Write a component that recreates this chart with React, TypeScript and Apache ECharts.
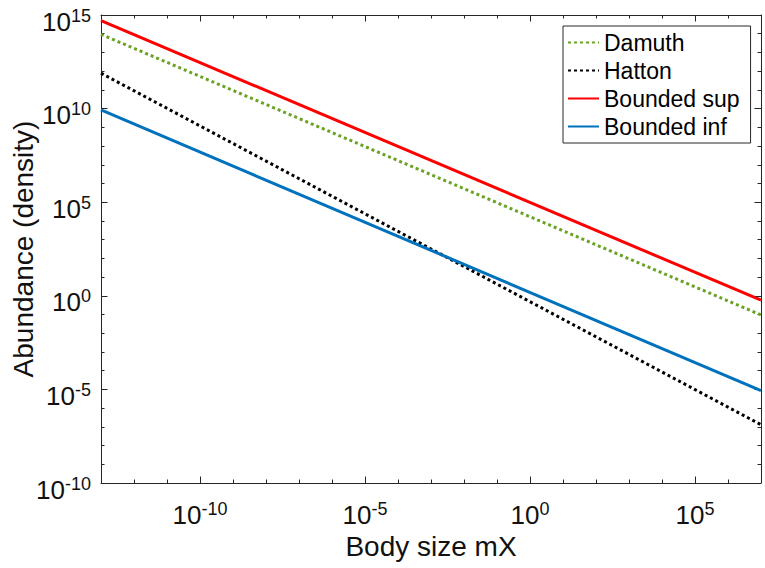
import React, { useEffect, useRef } from "react";
import * as echarts from "echarts";

// ---- data ----
const seriesNames = ["Damuth", "Hatton", "Bounded sup", "Bounded inf"];
const bodySize = [1e-13, 1e7]; // x values at the two ends of each power-law line
const damuth = [9.3e13, 0.095];
const hatton = [7.8e11, 1.3e-7];
const boundedSup = [5.0e14, 0.58];
const boundedInf = [8.5e9, 8.5e-6];

// axis extents and ticks, as powers of ten (decades)
const xDecadeRange = [-13, 7];
const yDecadeRange = [-10, 15];
const xMajorExp = [-10, -5, 0, 5];
const yMajorExp = [-10, -5, 0, 5, 10, 15];

const colors = ["#6AA323", "#000000", "#FF0000", "#0072BD"];

const FONT = "'Liberation Sans', Arial, Helvetica, sans-serif";
const AXIS = "#262626";
const TEXT = "#111111";

const powLabel = (e: number) => {
  const n = Math.round(e);
  if (Math.abs(e - n) > 1e-6 || n % 5 !== 0) return "";
  return `{b|10}{s|${n}}`;
};

const rich = {
  b: { fontFamily: FONT, fontSize: 26, lineHeight: 30, color: TEXT },
  s: { fontFamily: FONT, fontSize: 18, lineHeight: 10, verticalAlign: "top", color: TEXT },
};

function decadeAxis(range: number[], position: string, interval: number, minor: boolean, extra: any = {}) {
  return {
    type: "value",
    min: range[0],
    max: range[1],
    interval,
    position,
    axisLine: { show: true, onZero: false, lineStyle: { color: AXIS, width: 1 } },
    axisTick: { show: true, inside: true, length: minor ? 6.5 : 3.5, lineStyle: { color: AXIS, width: 1 } },
    minorTick: {
      show: minor,
      splitNumber: 5,
      length: 3.5,
      lineStyle: { color: AXIS, width: 1 },
    },
    axisLabel: { show: false },
    splitLine: { show: false },
    minorSplitLine: { show: false },
    ...extra,
  };
}

export default function App() {
  const ref = useRef<HTMLDivElement>(null);
  useEffect(() => {
    if (!ref.current) return;
    const chart = echarts.init(ref.current, undefined, { renderer: "svg" });
    const seriesValues = [damuth, hatton, boundedSup, boundedInf];
    const dashed = [true, true, false, false];
    const option: any = {
      animation: false,
      backgroundColor: "#ffffff",
      grid: {
        left: 101,
        top: 15,
        width: 660,
        height: 468,
        containLabel: false,
        outerBoundsMode: "none",
      },
      xAxis: [
        decadeAxis(xDecadeRange, "bottom", 1, false, {
          axisLabel: {
            show: true,
            formatter: powLabel,
            rich,
            margin: 17,
            color: TEXT,
            showMinLabel: true,
            showMaxLabel: true,
            hideOverlap: false,
          },
          name: "Body size mX",
          nameLocation: "middle",
          nameGap: 49,
          nameTextStyle: { fontFamily: FONT, fontSize: 28, color: TEXT },
        }),
        decadeAxis(xDecadeRange, "top", 1, false),
      ],
      yAxis: [
        decadeAxis(yDecadeRange, "left", 5, true, {
          axisLabel: {
            show: true,
            formatter: powLabel,
            rich,
            margin: 10,
            padding: [13, 0, 0, 0],
            color: TEXT,
            showMinLabel: true,
            showMaxLabel: true,
            hideOverlap: false,
          },
          name: "Abundance (density)",
          nameLocation: "middle",
          nameRotate: 90,
          nameGap: 64,
          nameMoveOverlap: false,
          nameTextStyle: { fontFamily: FONT, fontSize: 28, color: TEXT },
        }),
        decadeAxis(yDecadeRange, "right", 5, true),
      ],
      legend: {
        data: seriesNames,
        orient: "vertical",
        left: 563,
        top: 26,
        padding: [5, 11, 5, 4],
        itemWidth: 31,
        itemHeight: 14,
        itemGap: 5,
        backgroundColor: "#ffffff",
        borderColor: AXIS,
        borderWidth: 1,
        borderRadius: 0,
        z: 20,
        itemStyle: { opacity: 0, borderWidth: 0 },
        textStyle: { fontFamily: FONT, fontSize: 23, lineHeight: 23, color: "#000" },
      },
      series: seriesNames.map((name, i) => ({
        name,
        type: "line",
        xAxisIndex: 0,
        yAxisIndex: 0,
        data: bodySize.map((x, k) => [Math.log10(x), Math.log10(seriesValues[i][k])]),
        symbol: "none",
        showSymbol: false,
        color: colors[i],
        itemStyle: { color: colors[i] },
        lineStyle: {
          color: colors[i],
          width: 3,
          type: dashed[i] ? [3, 3] : "solid",
          cap: "butt",
        },
        z: 2 + i,
      })),
    };
    chart.setOption(option);

    // longer major tick marks on the x box edges, placed through the axis scale
    try {
      const els: any[] = [];
      const style = { stroke: AXIS, lineWidth: 1 };
      xMajorExp.forEach((e) => {
        const b = chart.convertToPixel({ gridIndex: 0 }, [e, yDecadeRange[0]]);
        const t = chart.convertToPixel({ gridIndex: 0 }, [e, yDecadeRange[1]]);
        if (!b || !t || !isFinite(b[0]) || !isFinite(b[1]) || !isFinite(t[1])) return;
        const x = Math.round(b[0]) + 0.5;
        els.push({ type: "line", silent: true, z: 100, shape: { x1: x, y1: b[1], x2: x, y2: b[1] - 6.5 }, style });
        els.push({ type: "line", silent: true, z: 100, shape: { x1: x, y1: t[1], x2: x, y2: t[1] + 6.5 }, style });
      });
      if (els.length) chart.setOption({ graphic: { elements: els } });
    } catch (err) {
      // keep the chart as it is if conversion fails
    }
    return () => chart.dispose();
  }, []);
  return (
    <div
      ref={ref}
      style={{ position: "absolute", left: 0, top: 0, width: 765, height: 568 }}
    />
  );
}
